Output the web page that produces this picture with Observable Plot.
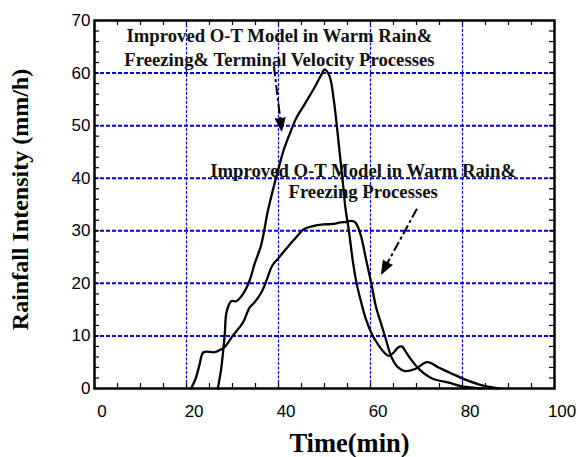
<!DOCTYPE html>
<html><head><meta charset="utf-8">
<script src="https://cdn.jsdelivr.net/npm/d3@7"></script>
<script src="https://cdn.jsdelivr.net/npm/@observablehq/plot@0.6"></script>
<style>body{margin:0;background:#fff} svg{display:block}</style>
</head><body><div id="chart"></div>
<script>
// Curve A: Improved O-T Model in Warm Rain & Freezing & Terminal Velocity Processes
const timeA = [26.8, 27.5, 28.3, 28.7, 29.7, 30.8, 32.3, 33.7, 34.8, 36.2, 37.7, 39.0, 40.2, 41.3, 42.6, 43.9, 45.7, 47.8, 49.5, 50.0, 51.1, 52.0, 52.8, 54.0, 54.6, 55.3, 56.2, 57.0, 58.0, 59.0, 60.5, 61.7, 63.0, 64.0, 65.0, 66.0, 66.8, 67.8, 69.0, 70.8, 73.4, 77.0, 79.9, 84.3];
const rainA = [0, 3.5, 10.1, 14.5, 16.6, 16.6, 18.0, 20.5, 23.7, 27.2, 33.8, 38.5, 42.5, 45.8, 48.8, 51.5, 54.1, 57.2, 60.0, 60.7, 59.4, 55.0, 49.0, 39.0, 34.0, 30.0, 24.0, 19.9, 16.3, 13.2, 10.0, 8.3, 6.8, 6.2, 6.8, 7.8, 8.0, 6.8, 5.3, 3.5, 1.9, 1.1, 0.4, 0];
// Curve B: Improved O-T Model in Warm Rain & Freezing Processes
const timeB = [21.0, 22.0, 22.8, 23.7, 26.1, 27.2, 28.3, 30.1, 32.3, 33.7, 34.8, 36.3, 37.5, 38.6, 39.9, 41.9, 43.9, 45.5, 47.5, 49.8, 52.0, 53.5, 55.0, 55.7, 56.7, 57.8, 59.0, 60.2, 61.2, 62.1, 63.2, 64.6, 66.0, 67.5, 69.7, 72.3, 74.8, 77.7, 80.6, 83.5, 87.9];
const rainB = [0, 1.9, 4.4, 6.9, 6.9, 7.3, 7.9, 10.1, 12.6, 15.4, 16.4, 18.3, 20.8, 23.3, 24.7, 26.8, 28.8, 30.3, 30.9, 31.2, 31.3, 31.6, 31.7, 31.9, 31.6, 29.4, 24.7, 19.9, 15.5, 12.9, 9.8, 5.9, 4.0, 3.3, 3.7, 5.0, 4.0, 2.8, 1.7, 0.8, 0];

const xTicks = [0, 20, 40, 60, 80, 100];
const yTicks = [0, 10, 20, 30, 40, 50, 60, 70];
const xTitle = "Time(min)";
const yTitle = "Rainfall Intensity (mm/h)";

const note1Lines = ["Improved O-T Model in Warm Rain&", "Freezing& Terminal Velocity Processes"];
const note1Time = [40.2, 40.2];
const note1Rain = [66.0, 61.35];
const note2Lines = ["Improved O-T Model in Warm Rain&", "Freezing Processes"];
const note2Time = [58.4, 58.4];
const note2Rain = [40.3, 36.2];

const arrowFromTime = [39.0, 70.1];
const arrowFromRain = [61.3, 34.2];
const arrowToTime = [40.7, 62.4];
const arrowToRain = [49.0, 21.8];

// ---- build ----
const W = 578, H = 457, mL = 94, mR = 24, mT = 20, mB = 69;
const plotW = W - mL - mR, plotH = H - mT - mB;
const kx = plotW / 100, ky = plotH / 70;

const seriesA = timeA.map((t, i) => ({t, v: rainA[i]}));
const seriesB = timeB.map((t, i) => ({t, v: rainB[i]}));
const notes = [
  ...note1Lines.map((s, i) => ({s, t: note1Time[i], v: note1Rain[i]})),
  ...note2Lines.map((s, i) => ({s, t: note2Time[i], v: note2Rain[i]}))
];
const headLen = 13;
const arrows = arrowFromTime.map((t1, i) => {
  const t2 = arrowToTime[i], v1 = arrowFromRain[i], v2 = arrowToRain[i];
  const dxp = (t2 - t1) * kx, dyp = (v2 - v1) * ky;
  const len = Math.hypot(dxp, dyp);
  const f = (len - headLen * 0.6) / len;
  return {t1, v1, t2, v2, te: t1 + (t2 - t1) * f, ve: v1 + (v2 - v1) * f,
          rot: Math.atan2(dxp, dyp) * 180 / Math.PI};
});

const serif = "'Liberation Serif', 'Times New Roman', serif";
const blue = "#0000dd";
const minorX = d3.range(0, 101, 5);
const minorY = d3.range(0, 71, 2);
const tk = 5;
const tickStyle = {stroke: "#000", strokeWidth: 1.2};

const chart = Plot.plot({
  width: W, height: H,
  marginLeft: mL, marginRight: mR, marginTop: mT, marginBottom: mB,
  style: {fontFamily: "'Liberation Sans', Arial, sans-serif", fontSize: "17px", background: "#fff", color: "#000"},
  x: {domain: [0, 100], label: null},
  y: {domain: [0, 70], label: null},
  marks: [
    Plot.gridY({ticks: yTicks.slice(1, -1), stroke: blue, strokeOpacity: 1, strokeWidth: 2, strokeDasharray: "4,2"}),
    Plot.gridX({ticks: xTicks.slice(1, -1), stroke: blue, strokeOpacity: 1, strokeWidth: 1.2, strokeDasharray: "3,1.5"}),
    // inward ticks on four sides
    Plot.tickX(minorX, {x: d => d, insetTop: plotH - tk, ...tickStyle}),
    Plot.tickX(minorX, {x: d => d, insetBottom: plotH - tk, ...tickStyle}),
    Plot.tickY(minorY, {y: d => d, insetRight: plotW - tk, ...tickStyle}),
    Plot.tickY(minorY, {y: d => d, insetLeft: plotW - tk, ...tickStyle}),
    Plot.axisX({ticks: xTicks, tickSize: 0, tickPadding: 16, dx: 7.6, fontSize: 17}),
    Plot.axisY({ticks: yTicks, tickSize: 0, tickPadding: 4, fontSize: 17}),
    Plot.text(notes, {x: "t", y: "v", text: "s", textAnchor: "middle", lineAnchor: "bottom",
      fontFamily: serif, fontWeight: "bold", fontSize: 18.7, fill: "#111"}),
    Plot.line(seriesA, {x: "t", y: "v", curve: "catmull-rom", stroke: "#000", strokeWidth: 2.3}),
    Plot.line(seriesB, {x: "t", y: "v", curve: "catmull-rom", stroke: "#000", strokeWidth: 2.3}),
    Plot.link(arrows, {x1: "t1", y1: "v1", x2: "te", y2: "ve", stroke: "#000", strokeWidth: 2, strokeDasharray: "10,3,3,3"}),
    Plot.vector(arrows, {x: "t2", y: "v2", rotate: "rot", length: headLen, shape: "spike", r: 5, anchor: "end", fill: "#000", stroke: "#000", strokeWidth: 1}),
    Plot.text([xTitle], {frameAnchor: "bottom", dx: 25, dy: 63.5, lineAnchor: "bottom", fontFamily: serif, fontWeight: "bold", fontSize: 26.5}),
    Plot.text([yTitle], {frameAnchor: "left", dx: -74, dy: -5, rotate: -90, textAnchor: "middle", lineAnchor: "middle", fontFamily: serif, fontWeight: "bold", fontSize: 24}),
    Plot.frame({stroke: "#000", strokeWidth: 2.5})
  ]
});
document.getElementById("chart").appendChild(chart);
</script>
</body></html>
